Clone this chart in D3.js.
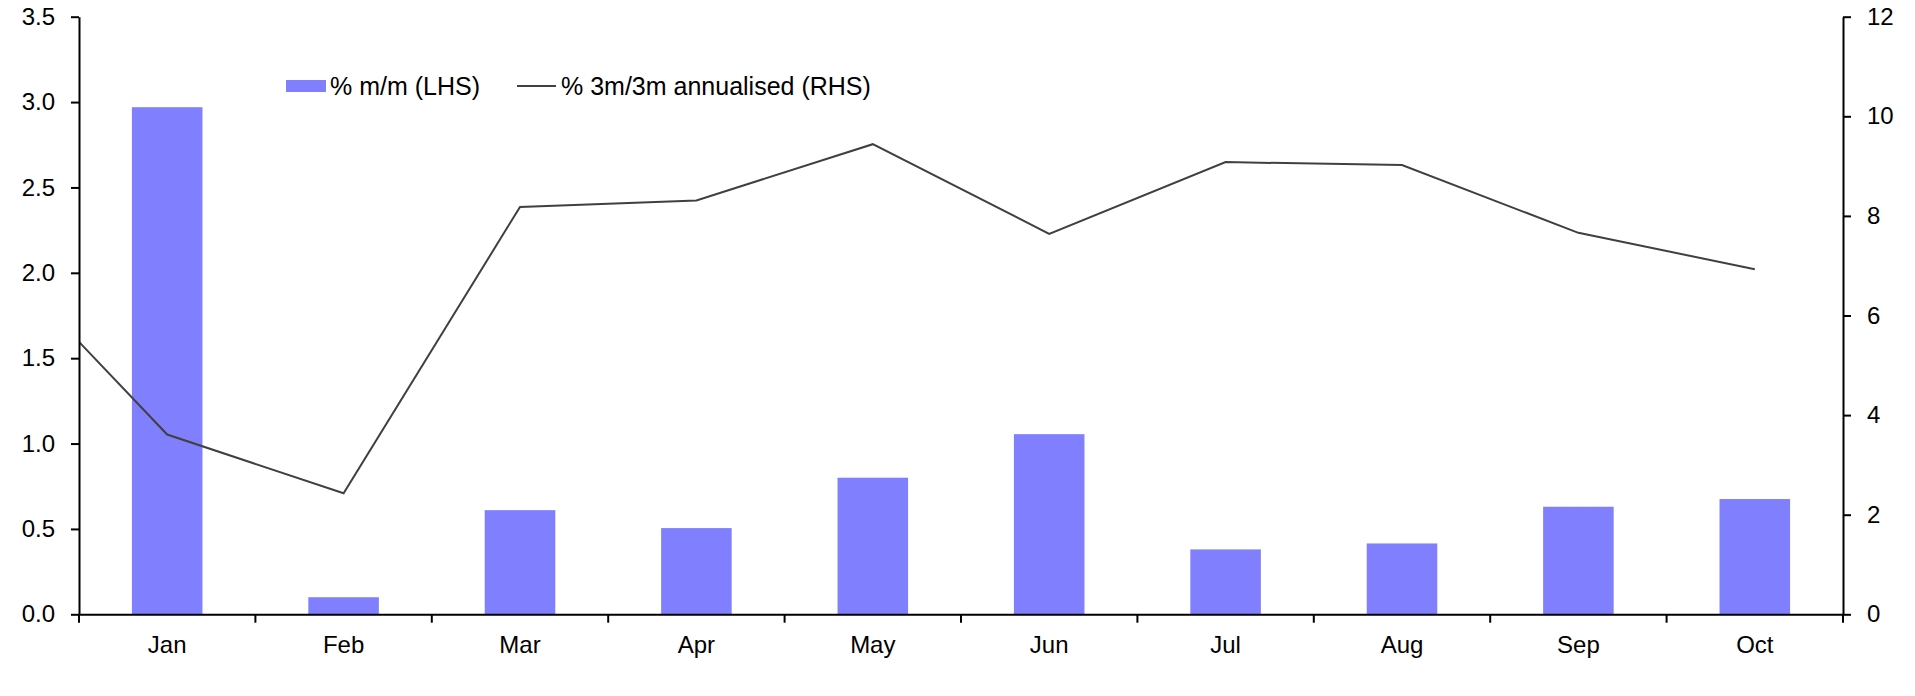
<!DOCTYPE html>
<html>
<head>
<meta charset="utf-8">
<script src="https://cdn.jsdelivr.net/npm/d3@7"></script>
<style>
  body { margin: 0; background: #fff; }
  svg { display: block; font-family: "Liberation Sans", Arial, sans-serif; }
  .axis path, .axis line { stroke: #000; stroke-width: 2; }
  .axis text { fill: #000; font-size: 24px; }
</style>
</head>
<body>
<script>
// data
const months = ["Jan", "Feb", "Mar", "Apr", "May", "Jun", "Jul", "Aug", "Sep", "Oct"];
const mmValues = [2.97, 0.10, 0.61, 0.505, 0.80, 1.055, 0.38, 0.415, 0.63, 0.675];
const annValues = [3.61, 2.43, 8.18, 8.31, 9.44, 7.64, 9.08, 9.02, 7.66, 6.93];
const prevAnn = 7.33; // previous month, drawn off the left edge and clipped
const leftTicks = [0, 0.5, 1, 1.5, 2, 2.5, 3, 3.5];
const rightTicks = [0, 2, 4, 6, 8, 10, 12];
const legendLabels = ["% m/m (LHS)", "% 3m/3m annualised (RHS)"];

const W = 1915, H = 696;
const margin = {top: 16.7, right: 72, bottom: 81.7, left: 79},
  width = W - margin.left - margin.right,
  height = H - margin.top - margin.bottom;

const barColor = "#8080ff", lineColor = "#404040";

const svg = d3.select("body").append("svg")
  .attr("width", W)
  .attr("height", H);

const plot = svg.append("g")
  .attr("transform", `translate(${margin.left}, ${margin.top})`);

const x = d3.scaleBand().domain(months).range([0, width]).padding(0);
const yL = d3.scaleLinear().domain([0, 3.5]).range([height, 0]);
const yR = d3.scaleLinear().domain([0, 12]).range([height, 0]);

svg.append("defs").append("clipPath").attr("id", "clip")
  .append("rect").attr("width", width).attr("height", height);

// bars
const barW = x.bandwidth() * 0.4;
plot.selectAll(".bar")
  .data(months)
  .enter().append("rect")
  .attr("class", "bar")
  .attr("x", (d) => x(d) + (x.bandwidth() - barW) / 2)
  .attr("width", barW)
  .attr("y", (d, i) => yL(mmValues[i]))
  .attr("height", (d, i) => height - yL(mmValues[i]))
  .style("fill", barColor);

// line, with the month before Jan one step to the left
const linePts = [[x("Jan") + x.bandwidth() / 2 - x.step(), prevAnn]]
  .concat(months.map((m, i) => [x(m) + x.bandwidth() / 2, annValues[i]]));

plot.append("path")
  .datum(linePts)
  .attr("clip-path", "url(#clip)")
  .attr("fill", "none")
  .attr("stroke", lineColor)
  .attr("stroke-width", 2)
  .attr("d", d3.line().x(d => d[0]).y(d => yR(d[1])));

// left axis
plot.append("g")
  .attr("class", "axis")
  .call(d3.axisLeft(yL).tickValues(leftTicks).tickFormat(d3.format(".1f"))
    .tickSize(8).tickPadding(16).tickSizeOuter(0));

// right axis
plot.append("g")
  .attr("class", "axis")
  .attr("transform", `translate(${width},0)`)
  .call(d3.axisRight(yR).tickValues(rightTicks).tickFormat(d3.format("d"))
    .tickSize(8).tickPadding(16).tickSizeOuter(0));

// bottom axis: labels at band centres, ticks at band edges
const xAxis = plot.append("g")
  .attr("class", "axis")
  .attr("transform", `translate(0,${height})`)
  .call(d3.axisBottom(x).tickSize(0).tickSizeOuter(0));
xAxis.selectAll(".tick text").attr("y", 38.4).attr("dy", 0);

xAxis.selectAll(".edge")
  .data(months.map(m => x(m)).concat([width]))
  .enter().append("line")
  .attr("class", "edge")
  .attr("x1", d => d).attr("x2", d => d)
  .attr("y1", 0).attr("y2", 8.4);

// legend
const legend = svg.append("g").style("font-size", "25px");
legend.append("rect")
  .attr("x", 286).attr("y", 80)
  .attr("width", 40).attr("height", 12)
  .style("fill", barColor);
legend.append("text")
  .attr("x", 330).attr("y", 86).attr("dy", ".35em")
  .text(legendLabels[0]);
legend.append("line")
  .attr("x1", 517).attr("x2", 556)
  .attr("y1", 86).attr("y2", 86)
  .attr("stroke", lineColor).attr("stroke-width", 2);
legend.append("text")
  .attr("x", 561).attr("y", 86).attr("dy", ".35em")
  .text(legendLabels[1]);
</script>
</body>
</html>
